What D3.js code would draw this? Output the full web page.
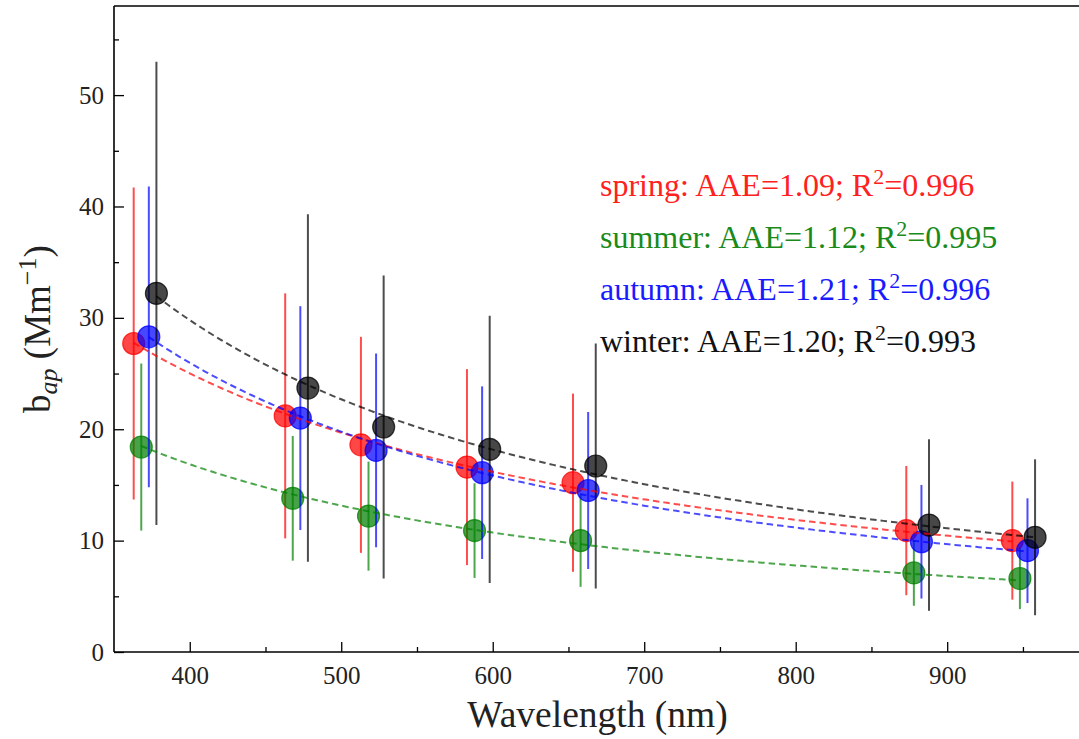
<!DOCTYPE html>
<html>
<head>
<meta charset="utf-8">
<script src="https://cdn.jsdelivr.net/npm/d3@7"></script>
<style>
  body { margin: 0; background: #fff; }
  svg { display: block; }
  text { font-family: 'Liberation Serif', 'Times New Roman', serif; }
</style>
</head>
<body>
<script>
// ---- data ----
const wavelengths = [370, 470, 520, 590, 660, 880, 950];
const seasons = ["spring", "summer", "autumn", "winter"];
const seasonOffsets = [-7, -2, 3, 8];            // nm shift applied per season so bars do not overlap
const spring    = [27.7, 21.2, 18.6, 16.6, 15.2, 10.9, 10.0];
const springErr = [14.0, 11.0, 9.7, 8.8, 8.0, 5.8, 5.3];
const summer    = [18.4, 13.8, 12.2, 10.9, 10.0, 7.1, 6.6];
const summerErr = [7.5, 5.6, 4.9, 4.25, 4.15, 2.95, 2.75];
const autumn    = [28.3, 21.0, 18.1, 16.1, 14.5, 9.9, 9.1];
const autumnErr = [13.5, 10.05, 8.7, 7.75, 7.05, 5.1, 4.7];
const winter    = [32.2, 23.7, 20.2, 18.2, 16.7, 11.4, 10.3];
const winterErr = [20.8, 15.6, 13.6, 12.0, 11.0, 7.7, 7.0];
const aae = [1.09, 1.12, 1.21, 1.20];
const r2  = ["0.996", "0.995", "0.996", "0.993"];
const xTicks = [400, 500, 600, 700, 800, 900];
const xMinorTicks = [450, 550, 650, 750, 850, 950];
const yTicks = [0, 10, 20, 30, 40, 50];
const yMinorTicks = [5, 15, 25, 35, 45, 55];

const values = [spring, summer, autumn, winter];
const errors = [springErr, summerErr, autumnErr, winterErr];
const colors = ["#ff0000", "#008000", "#0000ff", "#000000"];
const textColors = ["#ff2020", "#1a8a1a", "#1a1aff", "#111111"];

// ---- layout ----
const W = 1079, H = 739;
const mLeft = 114, mTop = 6, mBottom = 652;
const FONT = "'Liberation Serif', 'Times New Roman', serif";

const svg = d3.select("body").append("svg")
  .attr("width", W).attr("height", H)
  .style("overflow", "hidden");

const x = d3.scaleLinear().domain([350, 1000]).range([mLeft, mLeft + 650 * 1.5149]);
const y = d3.scaleLinear().domain([0, 58]).range([mBottom, mTop]);

// ---- axes ----
const xAxis = svg.append("g").attr("transform", `translate(0,${mBottom})`)
  .call(d3.axisBottom(x).tickValues(xTicks).tickSizeInner(-10).tickSizeOuter(0)
        .tickPadding(14).tickFormat(d3.format("d")));
const xMinor = svg.append("g").attr("transform", `translate(0,${mBottom})`)
  .call(d3.axisBottom(x).tickValues(xMinorTicks).tickSizeInner(-5).tickSizeOuter(0).tickFormat(""));
const yAxis = svg.append("g").attr("transform", `translate(${mLeft},0)`)
  .call(d3.axisLeft(y).tickValues(yTicks).tickSizeInner(-10).tickSizeOuter(0)
        .tickPadding(10).tickFormat(d3.format("d")));
const yMinor = svg.append("g").attr("transform", `translate(${mLeft},0)`)
  .call(d3.axisLeft(y).tickValues(yMinorTicks).tickSizeInner(-5).tickSizeOuter(0).tickFormat(""));

[xAxis, xMinor, yAxis, yMinor].forEach(g => {
  g.attr("font-family", null);
  g.select(".domain").remove();
  g.selectAll(".tick line").attr("stroke", "#000").attr("stroke-width", 1.3);
  g.selectAll(".tick text").attr("fill", "#222").style("font-family", FONT).style("font-size", "25px");
});

// spines
svg.append("line").attr("x1", mLeft).attr("x2", mLeft).attr("y1", mTop).attr("y2", mBottom)
  .attr("stroke", "#000").attr("stroke-width", 1.6);
svg.append("line").attr("x1", mLeft).attr("x2", W).attr("y1", mBottom).attr("y2", mBottom)
  .attr("stroke", "#000").attr("stroke-width", 1.6);
svg.append("line").attr("x1", mLeft).attr("x2", W).attr("y1", mTop).attr("y2", mTop)
  .attr("stroke", "#000").attr("stroke-width", 1.6);

// ---- points & error bars ----
seasons.forEach((s, si) => {
  const g = svg.append("g").attr("class", "series-" + s);
  const pts = wavelengths.map((w, i) => ({ w: w + seasonOffsets[si], v: values[si][i], e: errors[si][i] }));
  g.selectAll("line.err").data(pts).join("line")
    .attr("class", "err")
    .attr("x1", d => x(d.w)).attr("x2", d => x(d.w))
    .attr("y1", d => y(d.v - d.e)).attr("y2", d => y(d.v + d.e))
    .attr("stroke", colors[si]).attr("stroke-opacity", 0.7).attr("stroke-width", 2);
  g.selectAll("circle").data(pts).join("circle")
    .attr("cx", d => x(d.w)).attr("cy", d => y(d.v)).attr("r", 11)
    .attr("fill", colors[si]).attr("fill-opacity", 0.72)
    .attr("stroke", colors[si]).attr("stroke-opacity", 0.72).attr("stroke-width", 1.2);
});

// ---- power-law fit curves (amplitude fitted to the data for the stated AAE) ----
seasons.forEach((s, si) => {
  const k = aae[si];
  const lnA = d3.mean(wavelengths, (w, i) => Math.log(values[si][i]) + k * Math.log(w));
  const A = Math.exp(lnA);
  const lam = d3.range(wavelengths[0], wavelengths[wavelengths.length - 1] + 0.01, 2);
  const line = d3.line().x(l => x(l + seasonOffsets[si])).y(l => y(A * Math.pow(l, -k)));
  svg.append("path").datum(lam).attr("d", line)
    .attr("fill", "none").attr("stroke", colors[si]).attr("stroke-opacity", 0.7)
    .attr("stroke-width", 2).attr("stroke-dasharray", "6.5,4");
});

// ---- annotation text ----
const legendX = 600, legendY0 = 196, legendDy = 52;
seasons.forEach((s, si) => {
  const t = svg.append("text").attr("x", legendX).attr("y", legendY0 + si * legendDy)
    .attr("fill", textColors[si]).style("font-size", "32px");
  t.append("tspan").text(`${s}: AAE=${aae[si].toFixed(2)}; R`);
  t.append("tspan").attr("dy", -12).style("font-size", "22px").text("2");
  t.append("tspan").attr("dy", 12).text("=" + r2[si]);
});

// axis titles
svg.append("text").attr("x", 597.5).attr("y", 727)
  .attr("text-anchor", "middle").attr("fill", "#222").style("font-size", "37.5px")
  .text("Wavelength (nm)");

const yl = svg.append("text")
  .attr("transform", `translate(50,${(mTop + mBottom) / 2}) rotate(-90)`)
  .attr("text-anchor", "middle").attr("fill", "#222").style("font-size", "37px");
yl.append("tspan").text("b");
yl.append("tspan").attr("dy", 7).style("font-size", "26px").style("font-style", "italic").text("ap");
yl.append("tspan").attr("dy", -7).text(" (Mm");
yl.append("tspan").attr("dy", -14).style("font-size", "26px").text("\u22121");
yl.append("tspan").attr("dy", 14).text(")");
</script>
</body>
</html>
